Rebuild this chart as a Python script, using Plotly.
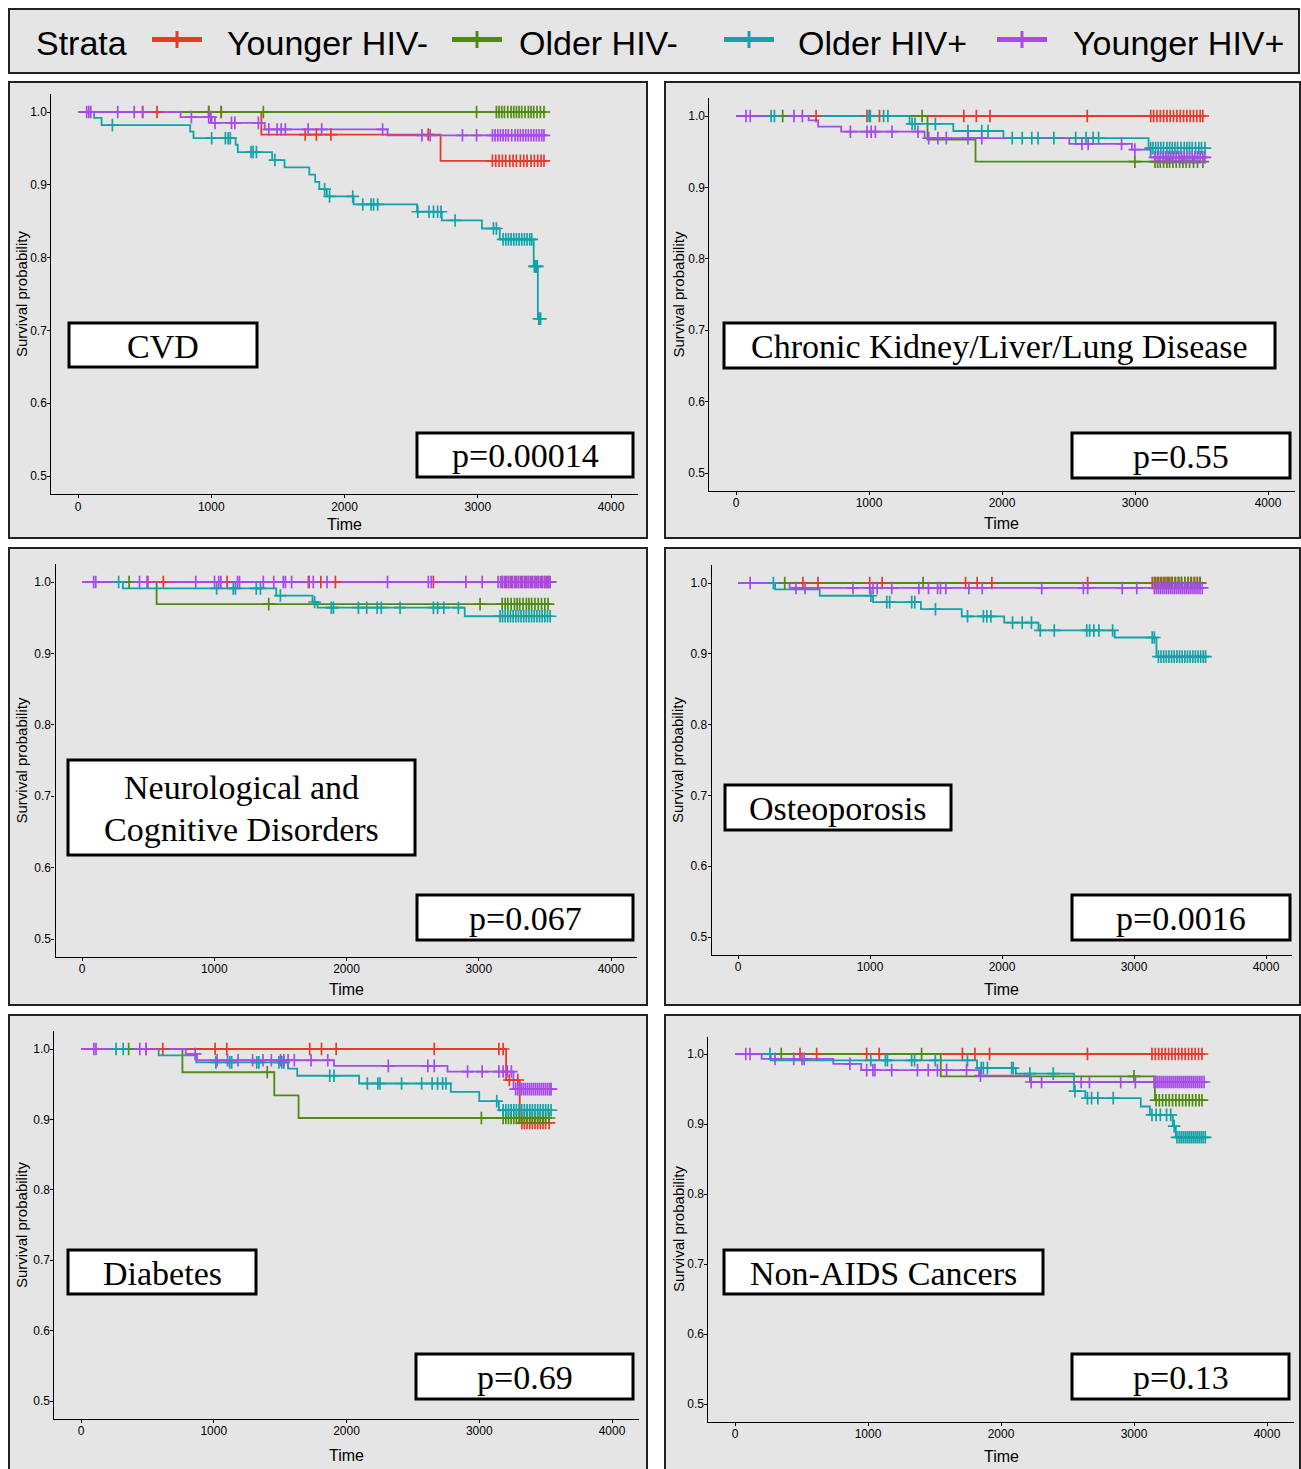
import plotly.graph_objects as go

W, H = 1301, 1469

STRATA = ["Younger HIV-", "Older HIV-", "Older HIV+", "Younger HIV+"]
COLORS = ["#E8392B", "#4E8B0E", "#12A2A8", "#A54BE8"]
PANEL_TITLES = ["CVD", "Chronic Kidney/Liver/Lung Disease",
                ["Neurological and", "Cognitive Disorders"], "Osteoporosis",
                "Diabetes", "Non-AIDS Cancers"]
P_VALUES = ["p=0.00014", "p=0.55", "p=0.067", "p=0.0016", "p=0.69", "p=0.13"]
X_TICKS = [0, 1000, 2000, 3000, 4000]
Y_TICKS = [0.5, 0.6, 0.7, 0.8, 0.9, 1.0]

# ---------------- data: event times, survival after each event, censor times ----------------
# CVD
CVD_EVENT_T = {
    "Younger HIV-": [1376, 2721],
    "Older HIV-": [],
    "Older HIV+": [121, 177, 842, 867, 1183, 1199, 1457, 1550, 1736, 1780, 1811, 1867, 2068, 2544, 2730, 3031, 3165, 3420, 3451],
    "Younger HIV+": [770, 1003, 1401, 2323],
}
CVD_EVENT_S = {
    "Younger HIV-": [0.969, 0.933],
    "Older HIV-": [],
    "Older HIV+": [0.992, 0.982, 0.973, 0.964, 0.955, 0.945, 0.934, 0.924, 0.914, 0.904, 0.894, 0.884, 0.873, 0.863, 0.851, 0.840, 0.825, 0.788, 0.716],
    "Younger HIV+": [0.993, 0.985, 0.976, 0.968],
}
CVD_CENSOR = {
    "Younger HIV-": [485, 593, 981, 1075, 1705, 1789, 1898, 2628, 3110, 3135, 3160, 3185, 3210, 3240, 3265, 3290, 3320, 3345, 3370, 3400, 3425, 3450, 3475, 3497],
    "Older HIV-": [981, 1075, 1391, 2991, 3140, 3160, 3180, 3200, 3225, 3250, 3270, 3290, 3310, 3330, 3355, 3380, 3400, 3420, 3445, 3470, 3497],
    "Older HIV+": [258, 1003, 1106, 1127, 1143, 1298, 1314, 1339, 1478, 1851, 1888, 2062, 2137, 2199, 2218, 2249, 2550, 2634, 2668, 2699, 2724, 2830, 3118, 3140, 3190, 3210, 3230, 3250, 3270, 3290, 3310, 3330, 3350, 3370, 3390, 3405, 3425, 3432, 3440, 3447, 3458, 3465, 3472],
    "Younger HIV+": [65, 81, 96, 298, 422, 485, 851, 981, 997, 1028, 1152, 1177, 1354, 1432, 1494, 1525, 1556, 1727, 1829, 2286, 2581, 2643, 2885, 2991, 3110, 3130, 3150, 3170, 3190, 3210, 3230, 3255, 3280, 3300, 3320, 3340, 3360, 3380, 3400, 3420, 3440, 3460, 3480, 3497],
}

# Chronic Kidney/Liver/Lung Disease
CKD_EVENT_T = {
    "Younger HIV-": [],
    "Older HIV-": [1440, 1801],
    "Older HIV+": [1305, 1634, 2011, 3102],
    "Younger HIV+": [546, 618, 791, 1418, 2506, 2977, 3118],
}
CKD_EVENT_S = {
    "Younger HIV-": [],
    "Older HIV-": [0.967, 0.936],
    "Older HIV+": [0.989, 0.979, 0.969, 0.955],
    "Younger HIV+": [0.994, 0.985, 0.978, 0.969, 0.961, 0.953, 0.942],
}
CKD_CENSOR = {
    "Younger HIV-": [602, 985, 1079, 1713, 1807, 1910, 2641, 3118, 3140, 3165, 3190, 3215, 3240, 3265, 3290, 3315, 3340, 3365, 3390, 3415, 3440, 3465, 3490, 3510],
    "Older HIV-": [351, 1399, 2999, 3150, 3170, 3190, 3215, 3240, 3260, 3285, 3310, 3335, 3360, 3385, 3410, 3440, 3470, 3510],
    "Older HIV+": [264, 289, 1001, 1010, 1110, 1142, 1324, 1346, 1499, 1744, 1848, 1895, 2077, 2152, 2224, 2271, 2390, 2554, 2632, 2685, 2726, 3118, 3135, 3155, 3175, 3195, 3215, 3240, 3260, 3280, 3300, 3320, 3345, 3370, 3390, 3410, 3430, 3455, 3480, 3500, 3526],
    "Younger HIV+": [75, 107, 436, 499, 860, 985, 1016, 1048, 1173, 1368, 1449, 1518, 1581, 1744, 1848, 2601, 2648, 2899, 2999, 3150, 3170, 3190, 3210, 3230, 3250, 3270, 3290, 3310, 3330, 3350, 3370, 3390, 3410, 3430, 3450, 3470, 3490, 3510, 3526],
}

# Neurological and Cognitive Disorders
NEU_EVENT_T = {
    "Younger HIV-": [],
    "Older HIV-": [564],
    "Older HIV+": [309, 1469, 1743, 1781, 2894],
    "Younger HIV+": [],
}
NEU_EVENT_S = {
    "Younger HIV-": [],
    "Older HIV-": [0.969],
    "Older HIV+": [0.991, 0.981, 0.972, 0.964, 0.952],
    "Younger HIV+": [],
}
NEU_CENSOR = {
    "Younger HIV-": [498, 615, 1097, 1712, 1806, 1916, 2657, 3177, 3200, 3225, 3250, 3275, 3300, 3325, 3350, 3375, 3400, 3425, 3450, 3475, 3500, 3520, 3540],
    "Older HIV-": [356, 1412, 3010, 3177, 3200, 3220, 3245, 3270, 3290, 3310, 3335, 3360, 3380, 3400, 3425, 3450, 3475, 3500, 3524],
    "Older HIV+": [277, 1018, 1144, 1160, 1318, 1349, 1500, 1759, 1885, 1901, 2090, 2153, 2232, 2263, 2405, 2657, 2689, 2736, 2846, 3161, 3180, 3200, 3220, 3240, 3260, 3280, 3300, 3320, 3340, 3360, 3380, 3400, 3420, 3440, 3460, 3480, 3500, 3520, 3540],
    "Younger HIV+": [88, 104, 435, 492, 860, 1002, 1034, 1050, 1176, 1191, 1371, 1450, 1522, 1538, 1585, 1718, 1749, 1853, 2310, 2619, 2641, 2903, 3026, 3146, 3165, 3180, 3195, 3210, 3225, 3240, 3255, 3270, 3285, 3300, 3315, 3330, 3345, 3360, 3375, 3390, 3405, 3420, 3435, 3450, 3465, 3480, 3495, 3510, 3525, 3540],
}

# Osteoporosis
OST_EVENT_T = {
    "Younger HIV-": [],
    "Older HIV-": [],
    "Older HIV+": [281, 619, 1023, 1386, 1695, 2017, 2276, 2854, 3170],
    "Younger HIV+": [391],
}
OST_EVENT_S = {
    "Younger HIV-": [],
    "Older HIV-": [],
    "Older HIV+": [0.991, 0.982, 0.973, 0.963, 0.953, 0.944, 0.933, 0.923, 0.896],
    "Younger HIV+": [0.993],
}
OST_CENSOR = {
    "Younger HIV-": [492, 606, 998, 1092, 1724, 1812, 1923, 2649, 3138, 3160, 3185, 3210, 3235, 3260, 3285, 3310, 3335, 3360, 3385, 3410, 3435, 3460, 3480, 3501],
    "Older HIV-": [354, 1402, 3154, 3175, 3200, 3225, 3250, 3270, 3290, 3315, 3340, 3360, 3385, 3410, 3430, 3455, 3480, 3501],
    "Older HIV+": [268, 1007, 1127, 1149, 1316, 1339, 1496, 1739, 1859, 1885, 1916, 2080, 2153, 2223, 2290, 2396, 2642, 2664, 2696, 2734, 2838, 3138, 3154, 3185, 3205, 3225, 3245, 3265, 3285, 3305, 3325, 3345, 3365, 3385, 3405, 3425, 3445, 3465, 3485, 3505, 3525, 3542],
    "Younger HIV+": [92, 439, 508, 871, 998, 1023, 1054, 1165, 1370, 1443, 1512, 1534, 1575, 1749, 1850, 2301, 2617, 2649, 2911, 3021, 3154, 3170, 3185, 3200, 3215, 3230, 3245, 3260, 3275, 3290, 3305, 3320, 3335, 3350, 3365, 3380, 3395, 3410, 3425, 3440, 3455, 3470, 3485, 3500, 3517],
}

# Diabetes
DIA_EVENT_T = {
    "Younger HIV-": [3202, 3305],
    "Older HIV-": [764, 1456, 1639],
    "Older HIV+": [585, 868, 1560, 1629, 2095, 2786, 3000, 3148],
    "Younger HIV+": [789, 874, 1906, 2761, 3258],
}
DIA_EVENT_S = {
    "Younger HIV-": [0.956, 0.895],
    "Older HIV-": [0.967, 0.934, 0.902],
    "Older HIV+": [0.991, 0.981, 0.972, 0.962, 0.951, 0.939, 0.926, 0.913],
    "Younger HIV+": [0.993, 0.984, 0.976, 0.968, 0.943],
}
DIA_CENSOR = {
    "Younger HIV-": [491, 616, 1010, 1098, 1723, 1812, 1922, 2661, 3148, 3180, 3227, 3290, 3321, 3340, 3360, 3380, 3400, 3420, 3440, 3460, 3480, 3500, 3526],
    "Older HIV-": [359, 1403, 3016, 3180, 3200, 3220, 3240, 3260, 3280, 3300, 3320, 3340, 3360, 3380, 3400, 3420, 3440, 3460, 3480, 3500, 3526],
    "Older HIV+": [264, 318, 1016, 1120, 1135, 1324, 1340, 1491, 1513, 1528, 1874, 1906, 2157, 2236, 2252, 2415, 2566, 2645, 2686, 2724, 2749, 3132, 3180, 3200, 3220, 3240, 3260, 3280, 3300, 3320, 3340, 3360, 3380, 3400, 3420, 3440, 3460, 3480, 3500, 3520, 3541],
    "Younger HIV+": [97, 113, 443, 491, 860, 1025, 1104, 1183, 1293, 1371, 1434, 1503, 1528, 1560, 1607, 1733, 1859, 2315, 2613, 2661, 2912, 3022, 3148, 3180, 3211, 3242, 3274, 3290, 3305, 3320, 3335, 3350, 3365, 3380, 3395, 3410, 3425, 3440, 3455, 3470, 3485, 3500, 3515, 3530, 3541],
}

# Non-AIDS Cancers
NAC_EVENT_T = {
    "Younger HIV-": [],
    "Older HIV-": [1547, 3157],
    "Older HIV+": [269, 1820, 2111, 2549, 2634, 3051, 3119, 3292, 3314],
    "Younger HIV+": [200, 739, 949, 1835, 2217],
}
NAC_EVENT_S = {
    "Younger HIV-": [],
    "Older HIV-": [0.968, 0.934],
    "Older HIV+": [0.991, 0.980, 0.972, 0.947, 0.937, 0.925, 0.913, 0.897, 0.881],
    "Younger HIV+": [0.993, 0.986, 0.977, 0.969, 0.960],
}
NAC_CENSOR = {
    "Younger HIV-": [489, 614, 990, 1084, 1710, 1804, 1914, 2650, 3135, 3160, 3185, 3210, 3235, 3260, 3285, 3310, 3335, 3360, 3385, 3410, 3435, 3460, 3485, 3511],
    "Older HIV-": [348, 1403, 3000, 3166, 3190, 3215, 3240, 3265, 3290, 3315, 3340, 3365, 3390, 3415, 3440, 3465, 3490, 3511],
    "Older HIV+": [263, 1021, 1131, 1146, 1328, 1350, 1506, 1748, 1851, 1867, 1898, 2080, 2092, 2217, 2393, 2556, 2650, 2681, 2728, 2844, 3135, 3166, 3198, 3245, 3276, 3302, 3323, 3340, 3355, 3370, 3385, 3400, 3415, 3430, 3445, 3460, 3475, 3490, 3505, 3520, 3536],
    "Younger HIV+": [81, 113, 301, 442, 504, 520, 864, 990, 1037, 1052, 1178, 1372, 1453, 1522, 1591, 1741, 1845, 2227, 2305, 2603, 2665, 2900, 3010, 3151, 3165, 3180, 3195, 3210, 3225, 3240, 3255, 3270, 3285, 3300, 3315, 3330, 3345, 3360, 3375, 3390, 3405, 3420, 3435, 3450, 3465, 3480, 3495, 3510, 3527],
}

PANEL_DATA = [
    (CVD_EVENT_T, CVD_EVENT_S, CVD_CENSOR),
    (CKD_EVENT_T, CKD_EVENT_S, CKD_CENSOR),
    (NEU_EVENT_T, NEU_EVENT_S, NEU_CENSOR),
    (OST_EVENT_T, OST_EVENT_S, OST_CENSOR),
    (DIA_EVENT_T, DIA_EVENT_S, DIA_CENSOR),
    (NAC_EVENT_T, NAC_EVENT_S, NAC_CENSOR),
]

# ---------------- layout geometry (pixels) ----------------
# pixel position of x=0, x=4000, y=1.0, y=0.5
AXIS_PX = [
    (78, 611, 112, 476),
    (736, 1268, 116, 473),
    (82, 611, 582, 939),
    (738, 1266, 583, 937),
    (81, 612, 1049, 1401),
    (735, 1267, 1054, 1404),
]
PANEL_BOX = [
    (9, 82, 647, 538), (665, 82, 1300, 538),
    (9, 548, 647, 1005), (665, 548, 1300, 1005),
    (9, 1015, 647, 1475), (665, 1015, 1300, 1475),
]
TITLE_BOX = [
    (69, 323, 257, 367), (724, 323, 1275, 368),
    (68, 760, 415, 855), (725, 785, 951, 830),
    (68, 1250, 256, 1294), (724, 1250, 1043, 1294),
]
P_BOX = [
    (417, 433, 633, 477), (1072, 433, 1290, 478),
    (417, 895, 633, 940), (1072, 895, 1290, 940),
    (416, 1354, 633, 1399), (1072, 1354, 1289, 1399),
]
TIME_Y = [524, 523, 989, 989, 1455, 1456]
YTITLE_X = [21, 678, 21, 678, 21, 678]
X_RANGE = [-200, 4200]
Y_RANGE = [0.475, 1.025]

PANEL_BG = "#E5E5E5"
NARROW = "Liberation Sans Narrow, Arial Narrow, Liberation Sans, Arial"
SANS = "Liberation Sans, Arial"
SERIF = "Liberation Serif, Times New Roman, serif"


def fx(p):
    return p / W


def fy(p):
    return 1 - p / H


def surv_at(t, ev_t, ev_s):
    s = 1.0
    for et, es in zip(ev_t, ev_s):
        if et <= t:
            s = es
    return s


fig = go.Figure()
shapes = []
annotations = []

for i, (ev_t_d, ev_s_d, cen_d) in enumerate(PANEL_DATA):
    n = "" if i == 0 else str(i + 1)
    xa, ya = "x" + n, "y" + n
    # step lines
    for k, st in enumerate(STRATA):
        ev_t, ev_s, cen = ev_t_d[st], ev_s_d[st], cen_d[st]
        end = max(cen + ev_t)
        xs = [0] + ev_t + [end]
        ys = [1.0] + ev_s + [ev_s[-1] if ev_s else 1.0]
        fig.add_trace(go.Scatter(x=xs, y=ys, mode="lines", line=dict(color=COLORS[k], width=1.8, shape="hv"),
                                 xaxis=xa, yaxis=ya, showlegend=False, hoverinfo="skip"))
    # censor marks
    for k, st in enumerate(STRATA):
        ev_t, ev_s, cen = ev_t_d[st], ev_s_d[st], cen_d[st]
        cy = [surv_at(t, ev_t, ev_s) for t in cen]
        fig.add_trace(go.Scatter(x=cen, y=cy, mode="markers",
                                 marker=dict(symbol="cross-thin", size=9, color=COLORS[k],
                                             line=dict(color=COLORS[k], width=1.7)),
                                 xaxis=xa, yaxis=ya, showlegend=False))

    x0, x4, y1, y05 = AXIS_PX[i]
    kx = (x4 - x0) / 4000.0
    ky = (y05 - y1) / 0.5
    left = x0 + (X_RANGE[0]) * kx
    right = x0 + (X_RANGE[1]) * kx
    top = y1 - (Y_RANGE[1] - 1.0) * ky
    bottom = y05 + (0.5 - Y_RANGE[0]) * ky

    axcommon = dict(showline=True, linecolor="black", linewidth=1.2, ticks="outside", ticklen=3,
                    tickcolor="black", tickwidth=1, showgrid=False, zeroline=False,
                    ticklabelstandoff=-2,
                    tickfont=dict(family=NARROW, size=12, color="black"))
    fig.update_layout(**{
        "xaxis" + n: dict(domain=[fx(left), fx(right)], range=X_RANGE, tickvals=X_TICKS,
                          anchor=ya, **axcommon),
        "yaxis" + n: dict(domain=[fy(bottom), fy(top)], range=Y_RANGE, tickvals=Y_TICKS,
                          ticktext=["%.1f" % v for v in Y_TICKS], anchor=xa, **axcommon),
    })

    # panel box
    bx0, by0, bx1, by1 = PANEL_BOX[i]
    shapes.append(dict(type="rect", xref="paper", yref="paper", x0=fx(bx0), x1=fx(bx1), y0=fy(by1), y1=fy(by0),
                       fillcolor=PANEL_BG, line=dict(color="#222222", width=2), layer="below"))
    # title box
    tx0, ty0, tx1, ty1 = TITLE_BOX[i]
    shapes.append(dict(type="rect", xref="paper", yref="paper", x0=fx(tx0), x1=fx(tx1), y0=fy(ty1), y1=fy(ty0),
                       fillcolor="white", line=dict(color="black", width=3), layer="above"))
    title = PANEL_TITLES[i]
    if isinstance(title, list):
        cy0 = (ty0 + ty1) / 2
        for j, line in enumerate(title):
            annotations.append(dict(text=line, xref="paper", yref="paper", x=fx((tx0 + tx1) / 2),
                                    y=fy(cy0 - 21 + 42 * j + 1), xanchor="center", yanchor="middle",
                                    showarrow=False, font=dict(family=SERIF, size=34, color="black")))
    else:
        annotations.append(dict(text=title, xref="paper", yref="paper", x=fx((tx0 + tx1) / 2),
                                y=fy((ty0 + ty1) / 2 + 1), xanchor="center", yanchor="middle",
                                showarrow=False, font=dict(family=SERIF, size=34, color="black")))
    # p-value box
    px0, py0, px1, py1 = P_BOX[i]
    shapes.append(dict(type="rect", xref="paper", yref="paper", x0=fx(px0), x1=fx(px1), y0=fy(py1), y1=fy(py0),
                       fillcolor="white", line=dict(color="black", width=3), layer="above"))
    annotations.append(dict(text=P_VALUES[i], xref="paper", yref="paper", x=fx((px0 + px1) / 2),
                            y=fy((py0 + py1) / 2 + 1), xanchor="center", yanchor="middle",
                            showarrow=False, font=dict(family=SERIF, size=34, color="black")))
    # axis titles
    annotations.append(dict(text="Time", xref="paper", yref="paper", x=fx(x0 + 2000 * kx), y=fy(TIME_Y[i]),
                            xanchor="center", yanchor="middle", showarrow=False,
                            font=dict(family=NARROW, size=16, color="black")))
    annotations.append(dict(text="Survival probability", xref="paper", yref="paper", x=fx(YTITLE_X[i]),
                            y=fy((top + bottom) / 2), xanchor="center", yanchor="middle", textangle=-90,
                            showarrow=False, font=dict(family=SANS, size=15, color="black")))

# ---------------- legend (manual) ----------------
shapes.append(dict(type="rect", xref="paper", yref="paper", x0=fx(9), x1=fx(1299), y0=fy(73), y1=fy(9),
                   fillcolor=PANEL_BG, line=dict(color="#222222", width=2), layer="below"))
annotations.append(dict(text="Strata", xref="paper", yref="paper", x=fx(34), y=fy(43), xanchor="left",
                        yanchor="middle", showarrow=False, font=dict(family=SANS, size=34, color="black")))
LEG_KEY_X = [152, 452, 724, 997]
LEG_TEXT_X = [225, 517, 796, 1071]
for k, st in enumerate(STRATA):
    kx0 = LEG_KEY_X[k]
    shapes.append(dict(type="line", xref="paper", yref="paper", x0=fx(kx0), x1=fx(kx0 + 50), y0=fy(39.5), y1=fy(39.5),
                       line=dict(color=COLORS[k], width=5)))
    shapes.append(dict(type="line", xref="paper", yref="paper", x0=fx(kx0 + 25), x1=fx(kx0 + 25), y0=fy(31), y1=fy(48),
                       line=dict(color=COLORS[k], width=3)))
    annotations.append(dict(text=st, xref="paper", yref="paper", x=fx(LEG_TEXT_X[k]), y=fy(43), xanchor="left",
                            yanchor="middle", showarrow=False, font=dict(family=SANS, size=34, color="black")))

fig.update_layout(width=W, height=H, margin=dict(l=0, r=0, t=0, b=0),
                  paper_bgcolor="white", plot_bgcolor="rgba(0,0,0,0)",
                  shapes=shapes, annotations=annotations, showlegend=False)

fig.write_html("out.html", config={"displayModeBar": False},
               post_script="document.body.style.margin='0px';document.body.style.padding='0px';")
